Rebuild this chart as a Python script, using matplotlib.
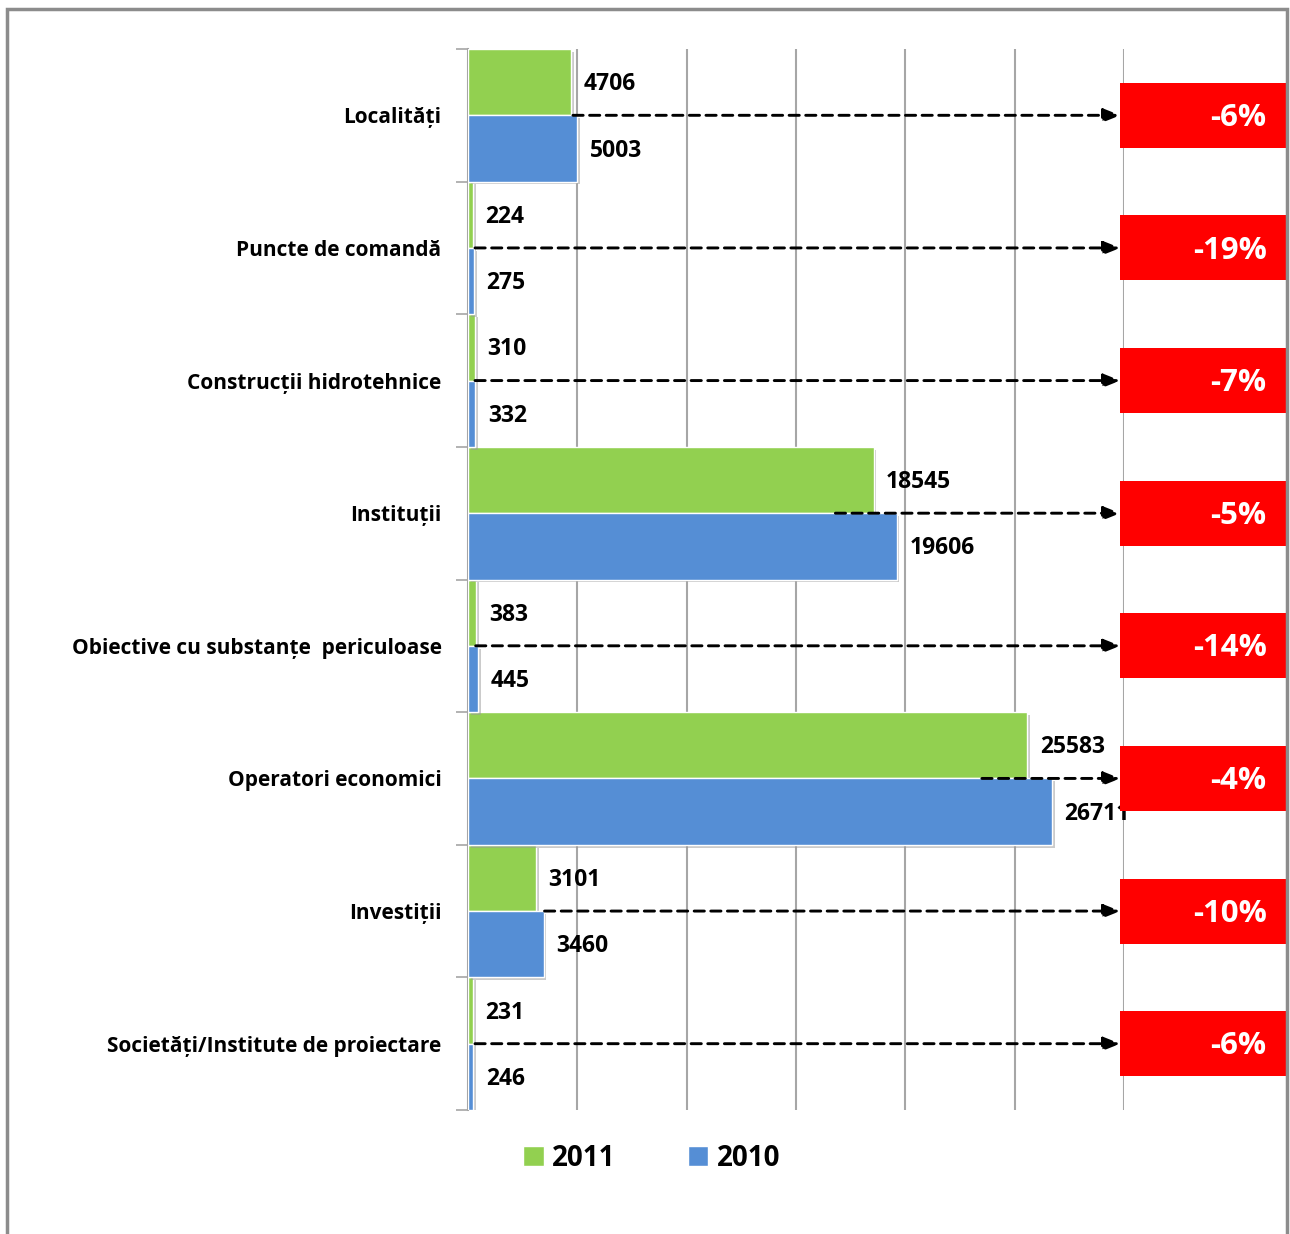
import matplotlib.pyplot as plt
from matplotlib import patheffects as pe
from matplotlib.patches import Rectangle, Patch

categories = [
    "Localități",
    "Puncte de comandă",
    "Construcții hidrotehnice",
    "Instituții",
    "Obiective cu substanțe  periculoase",
    "Operatori economici",
    "Investiții",
    "Societăți/Institute de proiectare",
]
values_2011 = [4706, 224, 310, 18545, 383, 25583, 3101, 231]
values_2010 = [5003, 275, 332, 19606, 445, 26711, 3460, 246]
# where the dashed arrows start (data units)
arrow_start = [4800, 320, 320, 16800, 350, 23500, 3500, 320]

GREEN = "#92D050"
BLUE = "#558ED5"
RED = "#FF0000"
FONT = ["Open Sans", "DejaVu Sans"]

plt.rcParams["font.family"] = FONT

fig = plt.figure(figsize=(12.9, 12.34), dpi=100)
ax = fig.add_axes([468 / 1290, 1 - 1110 / 1234, 656 / 1290, 1061 / 1234])

n = len(categories)
ys = list(range(n))
shadow = [pe.SimplePatchShadow(offset=(2, -2), shadow_rgbFace="#999999", alpha=0.5), pe.Normal()]

b1 = ax.barh([y - 0.25 for y in ys], values_2011, height=0.5, color=GREEN,
             edgecolor="white", linewidth=1, zorder=3)
b2 = ax.barh([y + 0.25 for y in ys], values_2010, height=0.5, color=BLUE,
             edgecolor="white", linewidth=1, zorder=3)
for bar in list(b1) + list(b2):
    bar.set_path_effects(shadow)

for y, v in zip(ys, values_2011):
    ax.annotate(f"{v}", xy=(v, y - 0.25), xytext=(9, -1.5), textcoords="offset points",
                ha="left", va="center", fontsize=16.5, fontweight="bold", zorder=5)
for y, v in zip(ys, values_2010):
    ax.annotate(f"{v}", xy=(v, y + 0.25), xytext=(9, -1.5), textcoords="offset points",
                ha="left", va="center", fontsize=16.5, fontweight="bold", zorder=5)

arrow_end = 29830
box_left, box_right = 29830, 37420
for y, a, v11, v10 in zip(ys, arrow_start, values_2011, values_2010):
    ax.annotate("", xy=(arrow_end, y), xytext=(a, y),
                arrowprops=dict(arrowstyle="-|>,head_length=1.0,head_width=0.4",
                                color="black", lw=2.1, linestyle=(0, (3.5, 2.2)),
                                shrinkA=0, shrinkB=0),
                zorder=6)
    ax.add_patch(Rectangle((box_left, y - 0.245), box_right - box_left, 0.49,
                           facecolor=RED, edgecolor="none", clip_on=False, zorder=7))
    pct = round((v11 - v10) / v10 * 100)
    ax.text(box_right - 900, y + 0.02, f"{pct}%", color="white", fontsize=22.5,
            fontweight="bold", ha="right", va="center", zorder=8, clip_on=False)

ax.set_xlim(0, 30000)
ax.set_ylim(n - 0.5, -0.5)
ax.set_xticks(range(0, 30001, 5000))
ax.tick_params(axis="x", length=0, labelbottom=False)
ax.grid(axis="x", color="#A6A6A6", linewidth=1.5, zorder=0)
ax.set_axisbelow(True)

ax.set_yticks([y - 0.5 for y in range(n + 1)])
ax.set_yticks(ys, minor=True)
ax.set_yticklabels(categories, minor=True, fontsize=15, fontweight="bold")
ax.tick_params(axis="y", which="major", length=9, color="#A6A6A6", width=1.2, labelleft=False)
ax.tick_params(axis="y", which="minor", length=0, pad=19)

for side in ["top", "right", "bottom"]:
    ax.spines[side].set_visible(False)
ax.spines["left"].set_color("#A6A6A6")
ax.spines["left"].set_linewidth(1.5)

handles = [Patch(facecolor=GREEN, edgecolor="white", label="2011"),
           Patch(facecolor=BLUE, edgecolor="white", label="2010")]
fig.legend(handles=handles, loc="center", bbox_to_anchor=(0.505, 1 - 1158 / 1234),
           ncol=2, frameon=False, prop={"size": 20, "weight": "bold"},
           handlelength=0.75, handleheight=0.75, handletextpad=0.3, columnspacing=2.6)

# outer frame
fig.patches.append(Rectangle((7 / 1290, -0.05), 1280 / 1290, 1.05 - 9 / 1234,
                             transform=fig.transFigure, fill=False,
                             edgecolor="#8C8C8C", linewidth=2.5))

fig.savefig("out.png", dpi=100)
